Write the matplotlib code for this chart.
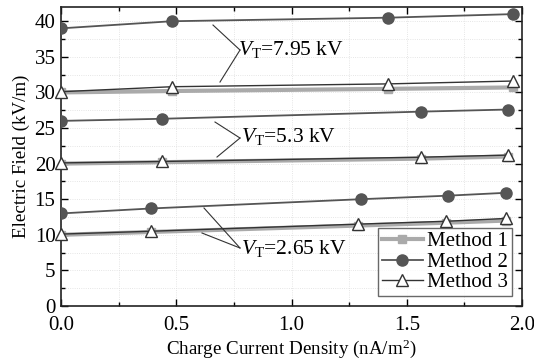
import matplotlib
matplotlib.use("Agg")
import matplotlib.pyplot as plt
from matplotlib.ticker import MultipleLocator

plt.rcParams['font.family'] = ['Liberation Serif', 'DejaVu Serif']
plt.rcParams['mathtext.fontset'] = 'custom'
plt.rcParams['mathtext.it'] = 'Liberation Serif:italic'
plt.rcParams['mathtext.rm'] = 'Liberation Serif'

# Method 1 (grey squares)
m1_x_hi = [0.0, 0.48, 1.42, 1.96]
m1_y_hi = [30.0, 30.2, 30.5, 30.7]
m1_x_mid = [0.0, 0.44, 1.56, 1.94]
m1_y_mid = [20.0, 20.2, 20.7, 21.0]
m1_x_lo = [0.0, 0.39, 1.29, 1.67, 1.93]
m1_y_lo = [10.0, 10.4, 11.3, 11.7, 12.0]

# Method 2 (dark circles)
m2_x_hi = [0.0, 0.48, 1.42, 1.96]
m2_y_hi = [39.0, 40.0, 40.5, 41.0]
m2_x_mid = [0.0, 0.44, 1.56, 1.94]
m2_y_mid = [26.0, 26.3, 27.3, 27.6]
m2_x_lo = [0.0, 0.39, 1.30, 1.68, 1.93]
m2_y_lo = [13.0, 13.7, 15.0, 15.5, 15.9]

# Method 3 (open triangles)
m3_x_hi = [0.0, 0.48, 1.42, 1.96]
m3_y_hi = [30.1, 30.8, 31.2, 31.6]
m3_x_mid = [0.0, 0.44, 1.56, 1.94]
m3_y_mid = [20.1, 20.3, 20.9, 21.2]
m3_x_lo = [0.0, 0.39, 1.29, 1.67, 1.93]
m3_y_lo = [10.1, 10.5, 11.5, 11.9, 12.3]

labels = ["Method 1", "Method 2", "Method 3"]
xtick_labels = ['0.0', '0.5', '1.0', '1.5', '2.0']

fig = plt.figure(figsize=(5.34, 3.63), dpi=100)
ax = fig.add_axes([61/534, 1 - 306/363, (522-61)/534, (306-7)/363])

c1, c2, c3 = '#aaaaaa', '#555555', '#333333'
for i, (x, y) in enumerate([(m1_x_hi, m1_y_hi), (m1_x_mid, m1_y_mid), (m1_x_lo, m1_y_lo)]):
    ax.plot(x, y, color=c1, lw=3, marker='s', ms=6, mfc=c1, mec=c1,
            label=labels[0] if i == 0 else None, zorder=2)
for i, (x, y) in enumerate([(m2_x_hi, m2_y_hi), (m2_x_mid, m2_y_mid), (m2_x_lo, m2_y_lo)]):
    ax.plot(x, y, color=c2, lw=1.3, marker='o', ms=8, mfc=c2, mec=c2,
            label=labels[1] if i == 0 else None, zorder=3)
for i, (x, y) in enumerate([(m3_x_hi, m3_y_hi), (m3_x_mid, m3_y_mid), (m3_x_lo, m3_y_lo)]):
    ax.plot(x, y, color=c3, lw=1.0, marker='^', ms=9, mfc='white', mec=c3, mew=1.0,
            label=labels[2] if i == 0 else None, zorder=4, clip_on=False)

ax.set_xlim(0, 2.0)
ax.set_ylim(0, 42)
ax.yaxis.set_major_locator(MultipleLocator(5))
ax.yaxis.set_minor_locator(MultipleLocator(2.5))
ax.set_xticks([0, 0.5, 1.0, 1.5, 2.0])
ax.set_xticklabels(xtick_labels)
ax.xaxis.set_minor_locator(MultipleLocator(0.25))
ax.grid(True, which='both', color='#dddddd', lw=0.6, ls=':')
ax.set_axisbelow(True)
ax.tick_params(which='both', direction='in', top=True, right=True, labelsize=15)
ax.tick_params(axis='x', pad=7)
ax.tick_params(axis='y', pad=4)
ax.tick_params(which='major', length=5, width=1)
ax.tick_params(which='minor', length=3, width=1)
for s in ax.spines.values():
    s.set_linewidth(1.2)
    s.set_color('#222222')

ax.set_xlabel('Charge Current Density (nA/m$^2$)', fontsize=13.7, labelpad=2)
ax.set_ylabel('Electric Field (kV/m)', fontsize=13.7, labelpad=3)

leg = ax.legend(loc='lower right', fontsize=15, frameon=True, fancybox=False,
                edgecolor='#444444', handlelength=2.0, borderpad=0.15,
                labelspacing=0.05, handletextpad=0.2, borderaxespad=0.5)
leg.get_frame().set_linewidth(1.0)

def px(x, y):
    return ((x - 61) / 230.5, (306 - y) / 7.12)

def annot(text, tx, ty, p1, p2, pj):
    ax.text(*px(tx, ty), text, fontsize=15.5, va='center', ha='left')
    for p in (p1, p2):
        xa, ya = px(*pj)
        xb, yb = px(*p)
        ax.plot([xa, xb], [ya, yb], color='#333333', lw=0.8, zorder=5)

annot(r'$\mathit{V}_{\mathrm{T}}$=7.95 kV', 238, 49, (213, 25), (220, 82), (240, 50))
annot(r'$\mathit{V}_{\mathrm{T}}$=5.3 kV', 241, 136, (215, 122), (217, 157), (240, 138))
annot(r'$\mathit{V}_{\mathrm{T}}$=2.65 kV', 241, 248, (204, 208), (202, 233), (240, 248))

fig.savefig('out.png', dpi=100)
